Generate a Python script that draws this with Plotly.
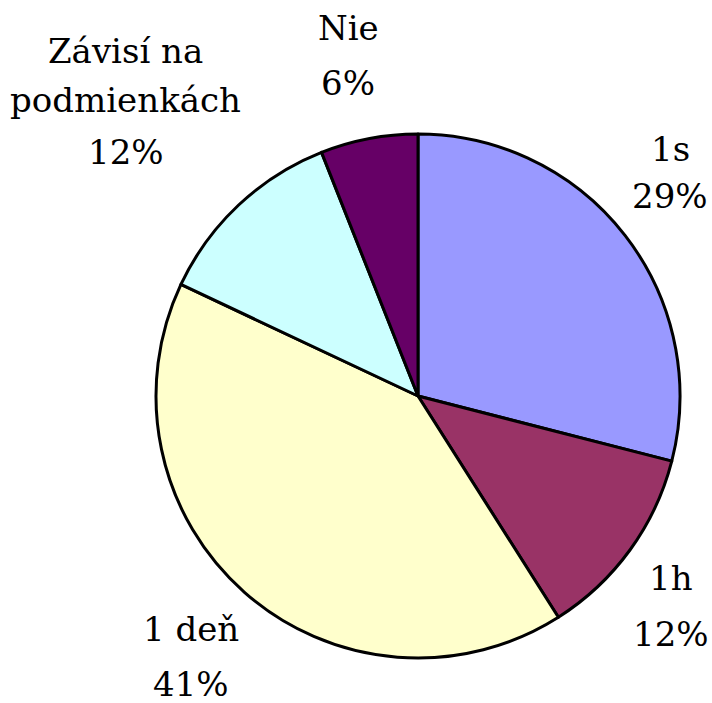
import plotly.graph_objects as go

labels = ["1s", "1h", "1 deň", "Závisí na podmienkách", "Nie"]
values = [29, 12, 41, 12, 6]
colors = ["#9999FF", "#993366", "#FFFFCC", "#CCFFFF", "#660066"]
label_lines = [["1s"], ["1h"], ["1 deň"], ["Závisí na", "podmienkách"], ["Nie"]]

# layout: (x center, y centers for each line incl. percent line), px from top-left
label_layout = [
    (670, [149, 196]),
    (671, [578, 634]),
    (191, [629, 684]),
    (126, [51, 100, 152]),
    (348, [28, 83]),
]

W, H = 712, 703
cx, cy, r = 418, 396, 262

fig = go.Figure(go.Pie(
    labels=labels,
    values=values,
    sort=False,
    direction="clockwise",
    rotation=0,
    marker=dict(colors=colors, line=dict(color="black", width=3)),
    textinfo="none",
    hoverinfo="label+percent",
    showlegend=False,
    domain=dict(x=[(cx - r) / W, (cx + r) / W], y=[(H - cy - r) / H, (H - cy + r) / H]),
))

for lines, v, (x, ys) in zip(label_lines, values, label_layout):
    texts = lines + [f"{v}%"]
    for t, y in zip(texts, ys):
        fig.add_annotation(
            x=x / W, y=1 - y / H, xref="paper", yref="paper",
            text=t, showarrow=False, xanchor="center", yanchor="middle",
            font=dict(family="DejaVu Serif", size=34, color="black"),
            align="center",
        )

fig.update_layout(
    width=W, height=H,
    margin=dict(l=0, r=0, t=0, b=0),
    paper_bgcolor="white", plot_bgcolor="white",
)
fig.write_html("out.html", config={"displayModeBar": False},
               post_script="document.body.style.margin='0';document.body.style.padding='0';")
